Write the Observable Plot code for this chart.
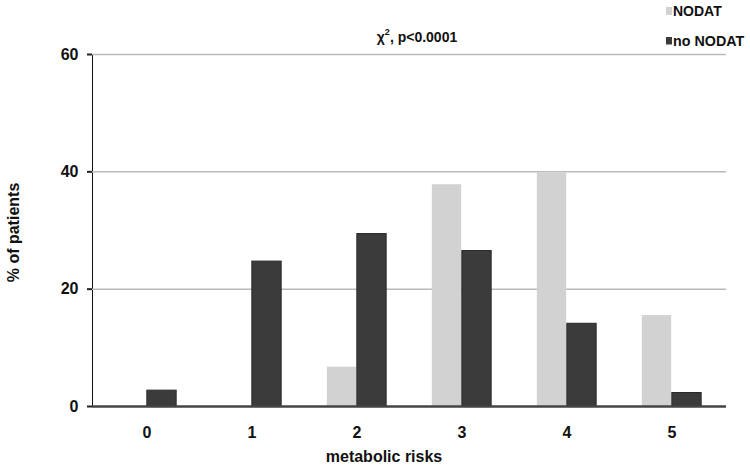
<!DOCTYPE html>
<html>
<head>
<meta charset="utf-8">
<script src="https://cdn.jsdelivr.net/npm/d3@7"></script>
<script src="https://cdn.jsdelivr.net/npm/@observablehq/plot@0.6"></script>
<style>
  html, body { margin: 0; padding: 0; background: #fff; }
</style>
</head>
<body>
<div id="wrap"></div>
<script>
const risks = ["0", "1", "2", "3", "4", "5"];
const nodat = [0, 0, 6.7, 37.8, 39.8, 15.5];
const noNodat = [2.7, 24.7, 29.4, 26.5, 14.1, 2.3];
const yTicks = [0, 20, 40, 60];
const seriesNames = ["NODAT", "no NODAT"];
const seriesColors = ["#d2d2d2", "#3b3b3b"];
const xTitle = "metabolic risks";
const yTitle = "% of patients";

const W = 750, H = 466;
const mL = 92, mR = 24, mT = 54, mB = 60;
const bw = (W - mL - mR) / risks.length;
const barW = 30;
const FONT = "'Liberation Sans', Arial, sans-serif";

const nodatData = risks.map((r, i) => ({risk: r, value: nodat[i]}));
const noNodatData = risks.map((r, i) => ({risk: r, value: noNodat[i]}));

const chart = Plot.plot({
  width: W,
  height: H,
  marginLeft: mL,
  marginRight: mR,
  marginTop: mT,
  marginBottom: mB,
  style: {fontFamily: FONT, fontSize: "16px", fontWeight: "bold", color: "#111", background: "#fff"},
  x: {type: "band", domain: risks, padding: 0, label: null, tickSize: 0, tickPadding: 20},
  y: {domain: [0, 60], ticks: yTicks, label: null, tickSize: 5, tickPadding: 9, line: true},
  marks: [
    Plot.ruleY(yTicks.filter(d => d > 0), {stroke: "#bababa", strokeWidth: 1.5}),
    Plot.barY(nodatData, {x: "risk", y: "value", fill: seriesColors[0], insetLeft: bw / 2 - barW, insetRight: bw / 2}),
    Plot.barY(noNodatData, {x: "risk", y: "value", fill: seriesColors[1], stroke: "#2a2a2a", strokeWidth: 1, insetLeft: bw / 2, insetRight: bw / 2 - barW}),
    Plot.ruleY([0], {stroke: "#444", strokeWidth: 2.5})
  ]
});
document.getElementById("wrap").appendChild(chart);

const svg = d3.select(chart);
// y axis styling
svg.selectAll("[aria-label='y-axis']").attr("font-size", 15);
svg.selectAll("[aria-label='y-axis'] path, [aria-label='y-axis tick'] path").attr("stroke", "#222").attr("stroke-width", 2);

const g = svg.append("g").attr("font-family", FONT).attr("font-weight", "bold").attr("fill", "#111");
g.append("text").attr("x", 384).attr("y", 462).attr("text-anchor", "middle").attr("font-size", 16).text(xTitle);
g.append("text").attr("transform", "translate(18.5,232.5) rotate(-90)").attr("text-anchor", "middle").attr("font-size", 16).text(yTitle);
const chi = g.append("text").attr("x", 417).attr("y", 42).attr("text-anchor", "middle").attr("font-size", 14);
chi.append("tspan").text("\u03C7");
chi.append("tspan").attr("font-size", 9).attr("dy", -7).text("2");
chi.append("tspan").attr("dy", 7).text(", p<0.0001");

// legend
g.append("rect").attr("x", 666).attr("y", 7).attr("width", 6).attr("height", 8).attr("fill", seriesColors[0]);
g.append("text").attr("x", 673).attr("y", 15.5).attr("text-anchor", "start").attr("font-size", 14).text(seriesNames[0]);
g.append("rect").attr("x", 666).attr("y", 37).attr("width", 6).attr("height", 7.5).attr("fill", seriesColors[1]);
g.append("text").attr("x", 673).attr("y", 45.5).attr("text-anchor", "start").attr("font-size", 14.3).text(seriesNames[1]);
</script>
</body>
</html>
